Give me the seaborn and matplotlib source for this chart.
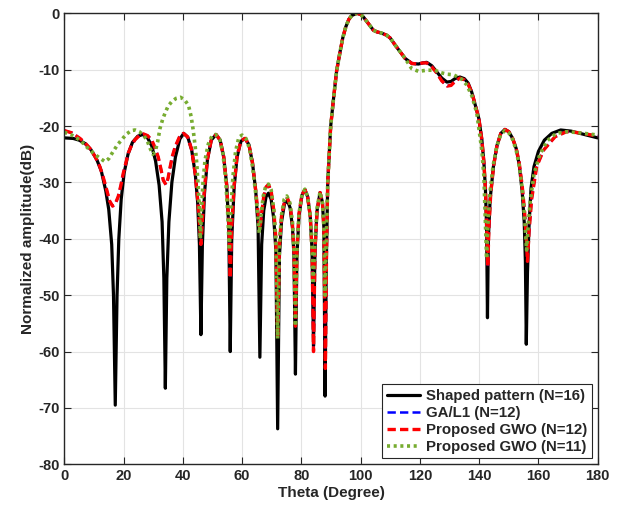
import matplotlib
matplotlib.use("Agg")
import matplotlib.pyplot as plt
import seaborn as sns
import pandas as pd

# ---- data (theta in degrees, amplitude in dB) ----
shaped_pts = [
    (0, -22.1), (3, -22.2), (5, -22.5), (7, -23.1), (9, -24.2), (11, -26), (12.5, -28), (14, -31.5),
    (15, -34.8), (16, -41), (16.6, -50), (17.2, -69.5), (17.8, -50), (18.4, -40), (19.2, -33), (20.2, -28.3),
    (21.5, -25), (23, -22.9), (24.8, -21.8), (26.5, -21.5), (28, -22), (29.5, -23.5), (30.8, -26.2),
    (32, -30.5), (33, -37), (33.6, -47), (34.1, -66.5), (34.6, -47), (35.3, -37), (36.3, -30), (37.5, -25.5),
    (39, -22.3), (40.3, -21.3), (41.7, -22), (43, -24.3), (44.2, -28.5), (45, -33.5), (45.6, -41),
    (46.1, -57), (46.6, -41), (47.3, -32), (48.3, -26), (49.6, -22.5), (51.2, -21.5), (52.6, -22.5),
    (53.8, -25.5), (54.8, -30.5), (55.5, -38), (56, -60), (56.5, -40), (57.3, -31), (58.3, -25.5),
    (59.6, -22.7), (61, -22.2), (62.3, -23.3), (63.5, -26.5), (64.6, -31.5), (65.4, -38), (66, -61),
    (66.6, -41), (67.3, -35), (68.1, -32.5), (68.9, -31.9), (69.8, -33), (70.7, -36.5), (71.4, -42),
    (72, -73.7), (72.6, -43), (73.3, -37), (74.3, -33.8), (75.3, -33.2), (76.2, -34.5), (77, -38),
    (77.5, -43), (78, -64), (78.5, -43), (79.2, -36), (80.2, -32.3), (81.2, -31.3), (82.1, -32.5),
    (83, -36), (83.6, -42), (84.1, -59), (84.6, -42), (85.3, -35), (86.3, -31.8), (87.1, -33.5),
    (87.6, -38), (88, -67.9), (88.4, -45), (88.9, -30), (89.9, -20), (90.8, -15.4), (91.9, -10.2),
    (93, -7), (94, -4.3), (95, -2.4), (96, -1.1), (97, -0.4), (98.7, 0), (100, -0.2), (101, -0.7),
    (102.6, -1.8), (104.3, -3), (105.5, -3.3), (107, -3.5), (108.8, -3.9), (110, -4.4), (111.6, -5.6),
    (113.3, -6.8), (115, -8), (117.3, -8.9), (119.5, -9.0), (121, -8.8), (122.3, -8.7), (124, -9.3),
    (125.7, -10.4), (127.4, -11.5), (129.1, -12.2), (130.5, -12.1), (131.8, -11.6), (133.5, -11.3),
    (135, -11.6), (136.3, -12.4), (137.5, -14), (138.8, -16.5), (139.9, -18.7), (140.9, -22.4),
    (141.6, -26.5), (142.1, -31), (142.5, -38), (142.8, -54), (143.1, -40), (143.7, -33), (144.8, -27.2),
    (146, -23.5), (147.3, -21.3), (148.7, -20.6), (150, -21), (151.3, -22.2), (152.5, -24), (153.5, -26.8),
    (154.5, -31.5), (155.2, -37), (155.6, -44), (155.9, -58.7), (156.3, -46), (156.8, -38), (157.5, -31),
    (158.5, -27.2), (160, -24.5), (162, -22.5), (164.5, -21.3), (167.5, -20.7), (171, -20.9), (174, -21.3),
    (177, -21.7), (180, -22.1),
]

gwo12_pts = [
    (0, -20.8), (2.5, -21.2), (5.3, -22.2), (7, -23), (8.7, -24), (10.5, -25.5), (12, -27.2), (13.2, -29.2),
    (14.3, -31.3), (15.3, -33.3), (16.3, -34.2), (17.2, -33.8), (18.2, -32.5), (19.1, -30.5), (19.9, -28.4),
    (20.8, -26.5), (21.6, -24.8), (22.7, -23.4), (23.9, -22.4), (25.3, -21.7), (26.7, -21.4), (28.1, -21.7),
    (29.5, -22.5), (30.6, -23.8), (31.7, -25.5), (32.6, -27.6), (33.4, -29.6), (34.3, -30.4), (35, -29.3),
    (35.7, -27.3), (36.5, -25.3), (37.4, -23.7), (38.8, -22), (40.2, -21.3), (41.6, -21.9), (43, -24.2),
    (44.2, -28.5), (45.1, -33.5), (45.7, -38), (46.1, -41), (46.6, -37), (47.3, -31), (48.3, -25.8),
    (49.6, -22.5), (51.2, -21.5), (52.6, -22.5), (53.8, -25.5), (54.8, -30.5), (55.5, -37), (56, -47),
    (56.5, -38), (57.3, -30.5), (58.3, -25.3), (59.6, -22.6), (61, -22.2), (62.3, -23.3), (63.5, -26.5),
    (64.6, -31.5), (65.4, -35.5), (66, -38.3), (66.6, -35.5), (67.3, -32.5), (68.1, -30.8), (68.9, -30.4),
    (69.8, -31.5), (70.7, -35), (71.4, -40), (72, -57.7), (72.6, -41), (73.3, -36), (74.3, -33.4),
    (75.3, -32.8), (76.2, -34), (77, -37.5), (77.5, -42), (78, -55.5), (78.5, -42), (79.2, -35.5),
    (80.2, -32.2), (81.2, -31.3), (82.1, -32.5), (83, -36), (83.6, -42), (84.1, -60), (84.6, -42),
    (85.3, -35), (86.3, -31.8), (87.1, -33.5), (87.6, -38), (88.1, -63), (88.5, -42), (88.9, -30),
    (89.9, -20), (90.8, -15.4), (91.9, -10.2), (93, -7), (94, -4.3), (95, -2.4), (96, -1.1), (97, -0.4),
    (98.7, 0), (100, -0.2), (101, -0.7), (102.6, -1.8), (104.3, -3), (105.5, -3.3), (107, -3.5),
    (108.8, -3.9), (110, -4.4), (111.6, -5.6), (113.3, -6.8), (115, -8), (117.3, -8.9), (119.5, -9.0),
    (121, -8.8), (122.3, -8.8), (124, -9.5), (125.7, -10.6), (127.4, -12), (129.2, -12.9), (130.5, -12.8),
    (132, -12), (133.5, -11.5), (135, -11.8), (136.3, -12.6), (137.5, -14), (138.8, -16.5), (139.9, -18.7),
    (140.9, -22.4), (141.6, -26.5), (142.1, -31), (142.5, -37), (142.9, -45), (143.3, -38), (143.9, -32),
    (144.9, -27), (146, -23.5), (147.3, -21.3), (148.7, -20.6), (150, -21), (151.3, -22.2), (152.5, -24),
    (153.5, -26.5), (154.5, -30.5), (155.3, -35), (155.9, -40), (156.3, -44), (156.8, -39), (157.7, -33),
    (159.4, -27.2), (161.7, -24.3), (165.6, -21.9), (169.5, -21), (174, -21.2), (177, -21.5), (180, -21.8),
]

# GA/L1 (N=12) is indistinguishable from the proposed GWO (N=12) curve in the picture
ga_pts = list(gwo12_pts)

gwo11_pts = [
    (0, -21.1), (2.5, -21.6), (5.3, -22.5), (7, -23.4), (8.7, -24.3), (10.5, -25.1), (12, -25.7),
    (13.7, -26.3), (15, -25.8), (16.5, -24.5), (18, -23.3), (19.4, -22.4), (21, -21.4), (22.7, -20.8),
    (23.9, -20.7), (25.3, -21), (26.7, -21.6), (27.9, -22.5), (29, -24), (29.9, -25.0), (30.7, -24.5),
    (31.5, -22.8), (32.3, -20.4), (33.2, -18.8), (34, -17.7), (35, -16.5), (36.2, -15.7), (37.7, -15.1),
    (39.2, -14.9), (40.5, -15.3), (41.9, -16.3), (42.8, -18.3), (43.5, -20.7), (44.2, -23.8), (44.7, -26.6),
    (45.2, -30.8), (45.6, -35), (45.9, -40), (46.3, -35), (46.8, -30), (47.5, -26), (48.6, -23.2),
    (49.8, -21.8), (51, -21.5), (52.4, -22.3), (53.5, -24.8), (54.4, -29), (55.1, -35), (55.7, -42),
    (56.2, -35), (56.9, -29), (57.8, -24.5), (58.9, -22), (60, -21.6), (61.3, -22.2), (62.5, -24),
    (63.6, -27.5), (64.6, -32), (65.3, -36), (65.8, -39), (66.4, -36), (67.1, -32.5), (68, -30.6),
    (68.9, -30.3), (69.8, -31.3), (70.7, -34.8), (71.4, -40), (72, -57.7), (72.6, -41), (73.3, -35.8),
    (74.2, -33), (75.1, -32.4), (76.1, -33.6), (77, -37), (77.5, -42), (78, -55.5), (78.5, -42),
    (79.2, -35.5), (80.2, -32.2), (81.2, -31.2), (82.1, -32.5), (83, -36), (83.6, -42), (84, -48),
    (84.5, -41), (85.3, -34.5), (86.3, -31.7), (87.1, -33.5), (87.6, -38), (88, -50), (88.4, -40),
    (88.9, -30), (89.9, -20), (90.8, -15.4), (91.9, -10.2), (93, -7), (94, -4.3), (95, -2.4), (96, -1.1),
    (97, -0.4), (98.7, 0), (100, -0.2), (101, -0.7), (102.6, -1.8), (104.3, -3), (105.5, -3.3),
    (107, -3.5), (108.8, -3.9), (110, -4.4), (111.6, -5.6), (113.3, -6.8), (115, -8), (116.1, -8.9),
    (117.2, -9.8), (119.5, -10.3), (122.3, -10.1), (125.1, -10.1), (126.8, -10.5), (129.1, -10.8),
    (131.3, -10.9), (132.4, -11.2), (134.1, -11.7), (135.8, -12.7), (137.5, -14.6), (139.2, -17.7),
    (140.9, -24.3), (141.6, -29), (142, -35.5), (142.5, -43.5), (143, -37), (143.6, -32), (144.7, -27),
    (146, -23.5), (147.3, -21.5), (148.7, -20.8), (150, -21.2), (151.3, -22.4), (152.5, -24.3),
    (153.5, -27), (154.5, -31), (155.3, -36), (156, -42), (156.5, -38), (157.2, -33.5), (158.5, -28.5),
    (160.5, -25), (163, -22.6), (166, -21.3), (169.5, -21), (174, -21.2), (177, -21.4), (180, -21.6),
]

series_names = ["Shaped pattern (N=16)", "GA/L1 (N=12)", "Proposed GWO (N=12)", "Proposed GWO (N=11)"]
series_pts = [shaped_pts, ga_pts, gwo12_pts, gwo11_pts]
x_ticks = [0, 20, 40, 60, 80, 100, 120, 140, 160, 180]
y_ticks = [-80, -70, -60, -50, -40, -30, -20, -10, 0]

# ---- style ----
sns.set_theme(style="ticks")
plt.rcParams["font.family"] = ["Liberation Sans", "DejaVu Sans"]
plt.rcParams["font.weight"] = "bold"
plt.rcParams["axes.unicode_minus"] = False
plt.rcParams["lines.scale_dashes"] = False

colors = ["#000000", "#0000FF", "#FF0000", "#77AC30"]
dash_patterns = [None, (6, 3), (6, 3), (2.2, 2.6)]
widths = [2.3, 1.8, 2.4, 2.6]

fig = plt.figure(figsize=(6.23, 5.09), dpi=100)
ax = fig.add_axes([0.1032, 0.0878, 0.8562, 0.8861])

for name, pts, c, dp, lw in zip(series_names, series_pts, colors, dash_patterns, widths):
    df = pd.DataFrame(pts, columns=["theta", "db"])
    kw = {} if dp is None else {"dashes": dp}
    sns.lineplot(data=df, x="theta", y="db", ax=ax, sort=False, estimator=None,
                 color=c, linewidth=lw, label=name, **kw)

ax.set_xlim(0, 180)
ax.set_ylim(-80, 0)
ax.set_xticks(x_ticks)
ax.set_yticks(y_ticks)
ax.grid(True, color="#e3e3e3", linewidth=0.8)
ax.set_axisbelow(True)
for sp in ax.spines.values():
    sp.set_visible(True)
    sp.set_color("#262626")
    sp.set_linewidth(1.0)
ax.tick_params(direction="in", top=True, right=True, length=5, width=0.8,
               labelsize=10.5, colors="#262626", labelcolor="#262626")
for lab in ax.get_xticklabels() + ax.get_yticklabels():
    lab.set_fontweight("bold")
ax.set_xlabel("Theta (Degree)", fontsize=11, fontweight="bold", color="#262626", labelpad=2)
ax.set_ylabel("Normalized amplitude(dB)", fontsize=11, fontweight="bold", color="#262626", labelpad=2)

leg = ax.legend(loc="lower right", frameon=True, fancybox=False, framealpha=1,
                edgecolor="#262626", handlelength=2.2, handletextpad=0.4, borderpad=0.3,
                labelspacing=0.2, borderaxespad=0.4, prop={"weight": "bold", "size": 10.8})
leg.get_frame().set_linewidth(0.8)

fig.savefig("out.png", dpi=100)
